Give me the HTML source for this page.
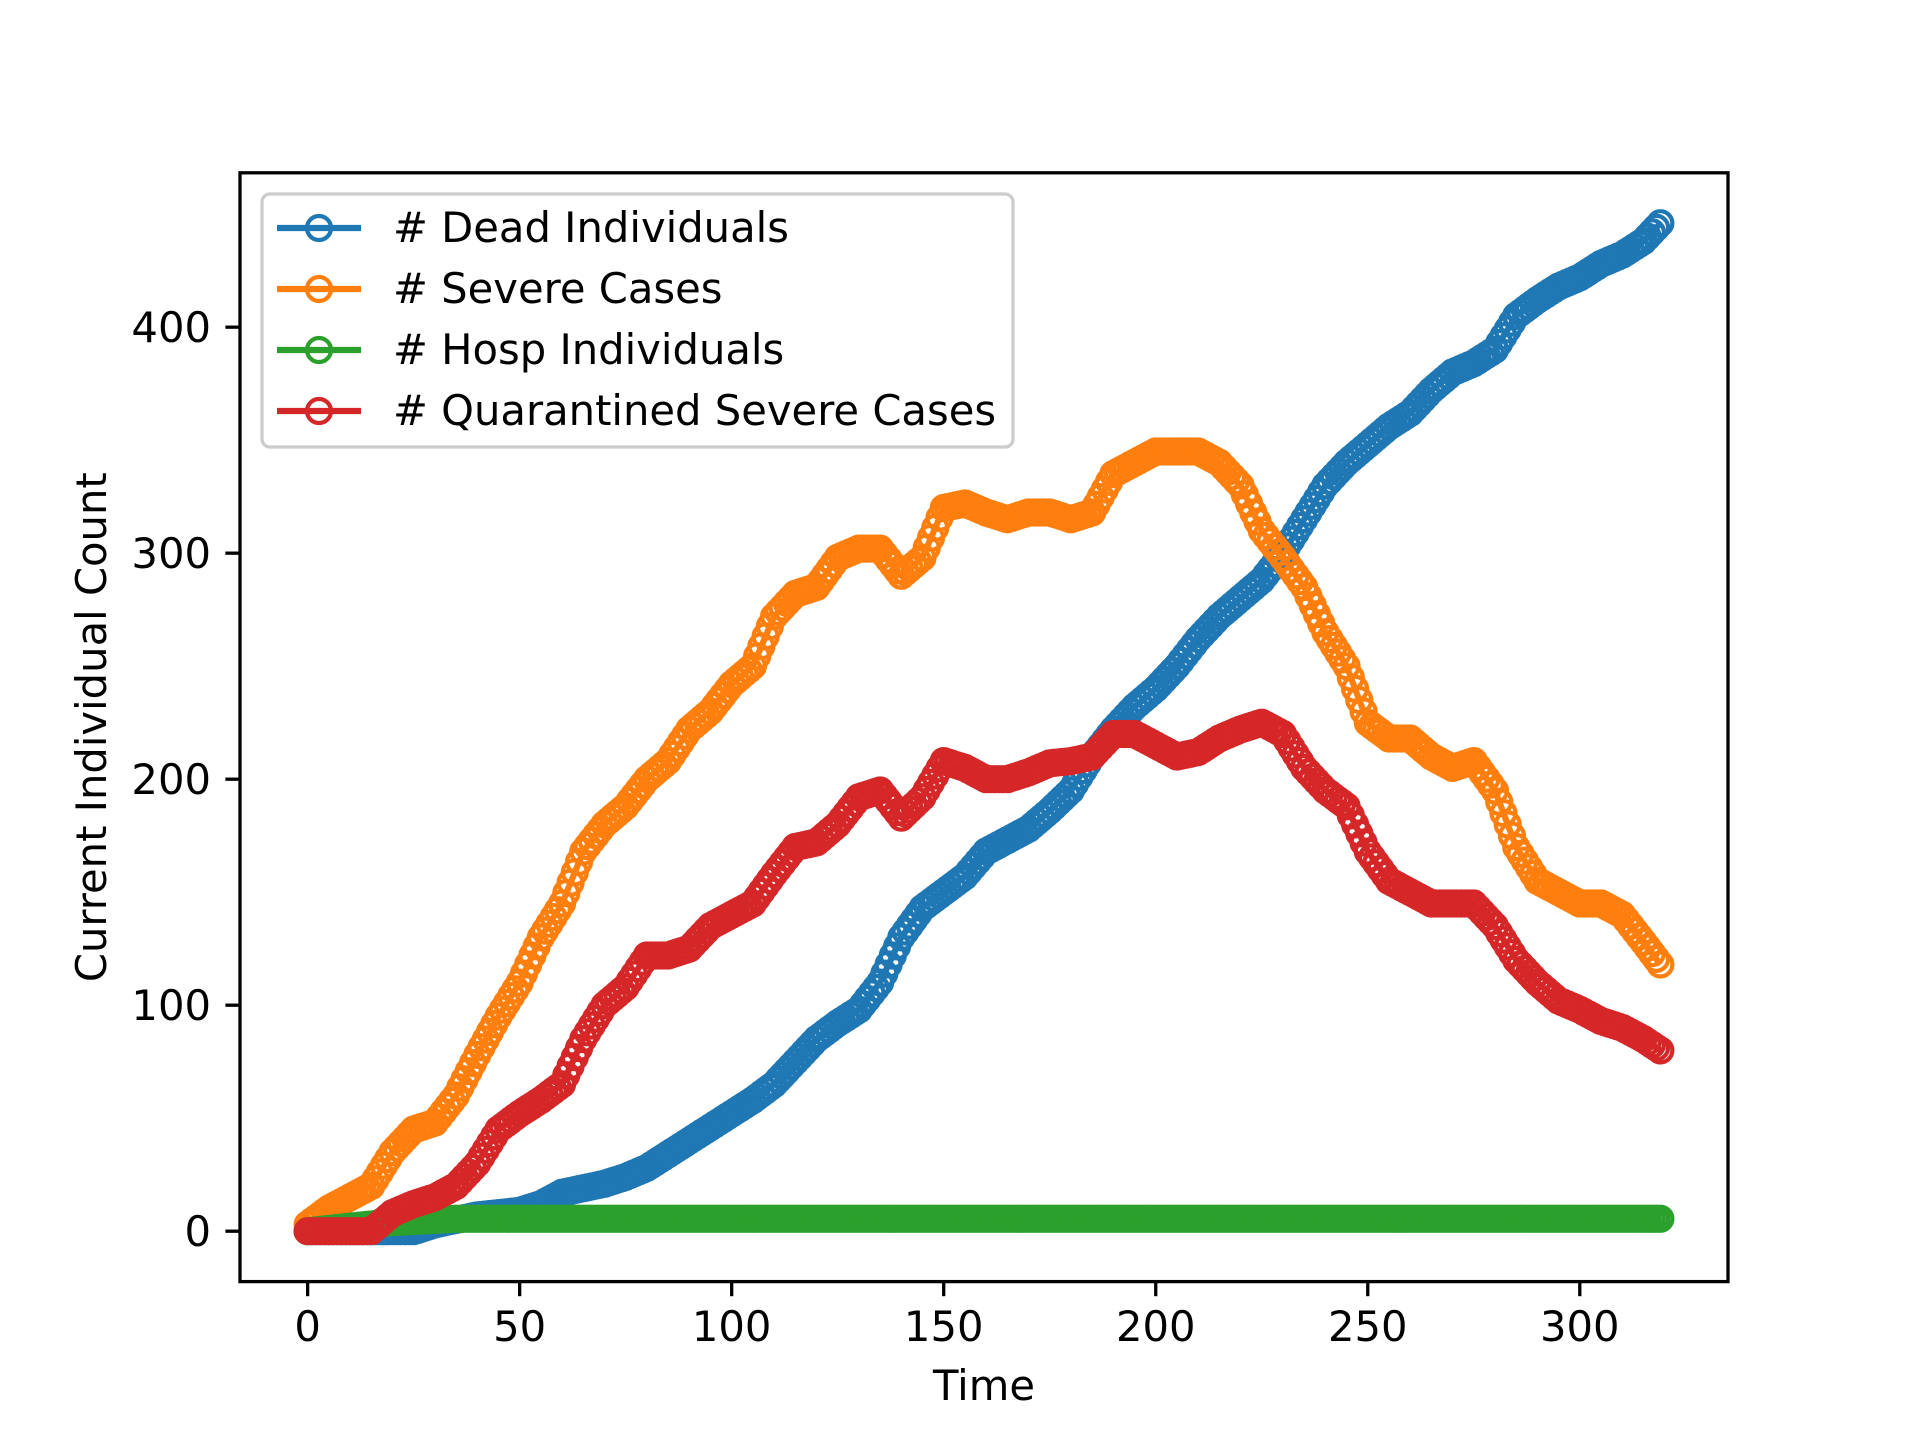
<!DOCTYPE html>
<html><head><meta charset="utf-8"><style>
html,body{margin:0;padding:0;background:#fff;}
svg{display:block;font-family:"DejaVu Sans","Liberation Sans",sans-serif;}
</style></head>
<body>
<svg id="chart" width="1920" height="1440" viewBox="0 0 1920 1440" xmlns="http://www.w3.org/2000/svg">
<rect width="1920" height="1440" fill="#fff"/>
<g id="plot"></g>
<g id="axes"></g>
<g id="legend"></g>
</svg>
<script>
const timeSteps = [0,5,10,15,20,25,30,35,40,45,50,55,60,65,70,75,80,85,90,95,100,105,110,115,120,125,130,135,140,145,150,155,160,165,170,175,180,185,190,195,200,205,210,215,220,225,230,235,240,245,250,255,260,265,270,275,280,285,290,295,300,305,310,315,319];
const deadValues = [0,0,0,0,0,0,3,5,7,8,9,12,17,19,21,24,28,34,40,46,52,58,65,75,85,92,98,110,130,143,150,157,168,173,178,186,195,210,222,232,240,250,262,272,280,288,300,315,330,340,348,356,362,372,380,384,390,405,412,418,422,428,432,438,446];
const severeValues = [3,10,15,20,35,45,48,60,78,95,110,130,145,168,180,188,200,208,222,230,242,250,272,282,285,298,302,302,290,298,320,322,318,315,318,318,315,318,335,340,345,345,345,340,330,310,298,285,265,250,225,218,218,210,205,208,195,170,155,150,145,145,140,128,118];
const hospValues = [0,1,2,3,4,4.5,5,5.5,5.5,5.5,5.5,5.5,5.5,5.5,5.5,5.5,5.5,5.5,5.5,5.5,5.5,5.5,5.5,5.5,5.5,5.5,5.5,5.5,5.5,5.5,5.5,5.5,5.5,5.5,5.5,5.5,5.5,5.5,5.5,5.5,5.5,5.5,5.5,5.5,5.5,5.5,5.5,5.5,5.5,5.5,5.5,5.5,5.5,5.5,5.5,5.5,5.5,5.5,5.5,5.5,5.5,5.5,5.5,5.5,5.5];
const quarValues = [0,0,0,0,8,12,15,20,30,45,52,58,65,85,100,108,122,122,125,135,140,145,158,170,172,180,192,195,183,192,208,205,200,200,203,207,208,210,220,220,215,210,212,218,222,225,220,205,195,188,168,155,150,145,145,145,135,120,110,102,98,93,90,85,80];
const xTicks = [0,50,100,150,200,250,300];
const yTicks = [0,100,200,300,400];
const seriesNames = ["# Dead Individuals","# Severe Cases","# Hosp Individuals","# Quarantined Severe Cases"];
const seriesColors = ["#1f77b4","#ff7f0e","#2ca02c","#d62728"];

const NS="http://www.w3.org/2000/svg";
const L=240,R=1728,T=172.8,B=1281.6;
const xMin=-15.95,xMax=334.95,yMin=-22.3,yMax=468.3;
const xs=v=>L+(v-xMin)/(xMax-xMin)*(R-L);
const ys=v=>B-(v-yMin)/(yMax-yMin)*(B-T);
function mk(tag,attrs,parent){const e=document.createElementNS(NS,tag);for(const k in attrs)e.setAttribute(k,attrs[k]);parent.appendChild(e);return e;}
const plot=document.getElementById('plot'),axes=document.getElementById('axes'),legend=document.getElementById('legend');
const allSeries=[deadValues,severeValues,hospValues,quarValues];
const keys=["dead","severe","hosp","quarantined"];
allSeries.forEach((vals,si)=>{
  const g=mk('g',{},plot);
  
  
  const d=vals.map((v,i)=>(i?'L':'M')+xs(timeSteps[i]).toFixed(1)+' '+ys(v).toFixed(1)).join(' ');
  const p=mk('path',{d:d,fill:'none',stroke:seriesColors[si],'stroke-width':6.25,'stroke-linejoin':'round'},g);
  
  
  for(let i=0;i<vals.length;i++){
    const t0=timeSteps[i],v0=vals[i];
    const t1=i<vals.length-1?timeSteps[i+1]:t0, v1=i<vals.length-1?vals[i+1]:v0;
    const n=Math.max(1,t1-t0);
    const last=(i===vals.length-1);
    for(let k=0;k<(last?1:n);k++){
      const f=k/n;
      const c=mk('circle',{cx:xs(t0+(t1-t0)*f),cy:ys(v0+(v1-v0)*f),r:12,fill:'none',stroke:seriesColors[si],'stroke-width':4.2},g);
      
      
    }
  }
});
const fr=mk('rect',{x:L,y:T,width:R-L,height:B-T,fill:'none',stroke:'#000','stroke-width':3.3},axes);


xTicks.forEach(t=>{
  const x=xs(t);
  const tk=mk('line',{x1:x,x2:x,y1:B,y2:B+14.6,stroke:'#000','stroke-width':3.3},axes);
  
  
  const tx=mk('text',{x:x,y:1341,'font-size':41.7,'text-anchor':'middle',fill:'#000'},axes);
  tx.textContent=t;
  
  
});
yTicks.forEach(t=>{
  const y=ys(t);
  const tk=mk('line',{x1:L-14.6,x2:L,y1:y,y2:y,stroke:'#000','stroke-width':3.3},axes);
  
  
  const tx=mk('text',{x:211,y:y+15,'font-size':41.7,'text-anchor':'end',fill:'#000'},axes);
  tx.textContent=t;
  
  
});
const xl=mk('text',{x:(L+R)/2,y:1400,'font-size':41.7,'text-anchor':'middle'},axes);
xl.textContent='Time';


const yl=mk('text',{x:0,y:0,'font-size':41.7,'text-anchor':'middle',transform:'translate(106 '+((T+B)/2)+') rotate(-90)'},axes);
yl.textContent='Current Individual Count';


const lb=mk('rect',{x:262,y:194,width:751,height:253,rx:8,fill:'#fff','fill-opacity':0.8,stroke:'#ccc','stroke-width':3.3},legend);


seriesNames.forEach((n,i)=>{
  const y=228+i*61;
  const g=mk('g',{},legend);
  
  
  mk('line',{x1:277,x2:361,y1:y,y2:y,stroke:seriesColors[i],'stroke-width':6.25},g);
  mk('circle',{cx:319,cy:y,r:12,fill:'none',stroke:seriesColors[i],'stroke-width':4.2},g);
  const t=mk('text',{x:393,y:y+14,'font-size':41.7,fill:'#000'},g);
  t.textContent=n;
});
</script>
</body></html>
